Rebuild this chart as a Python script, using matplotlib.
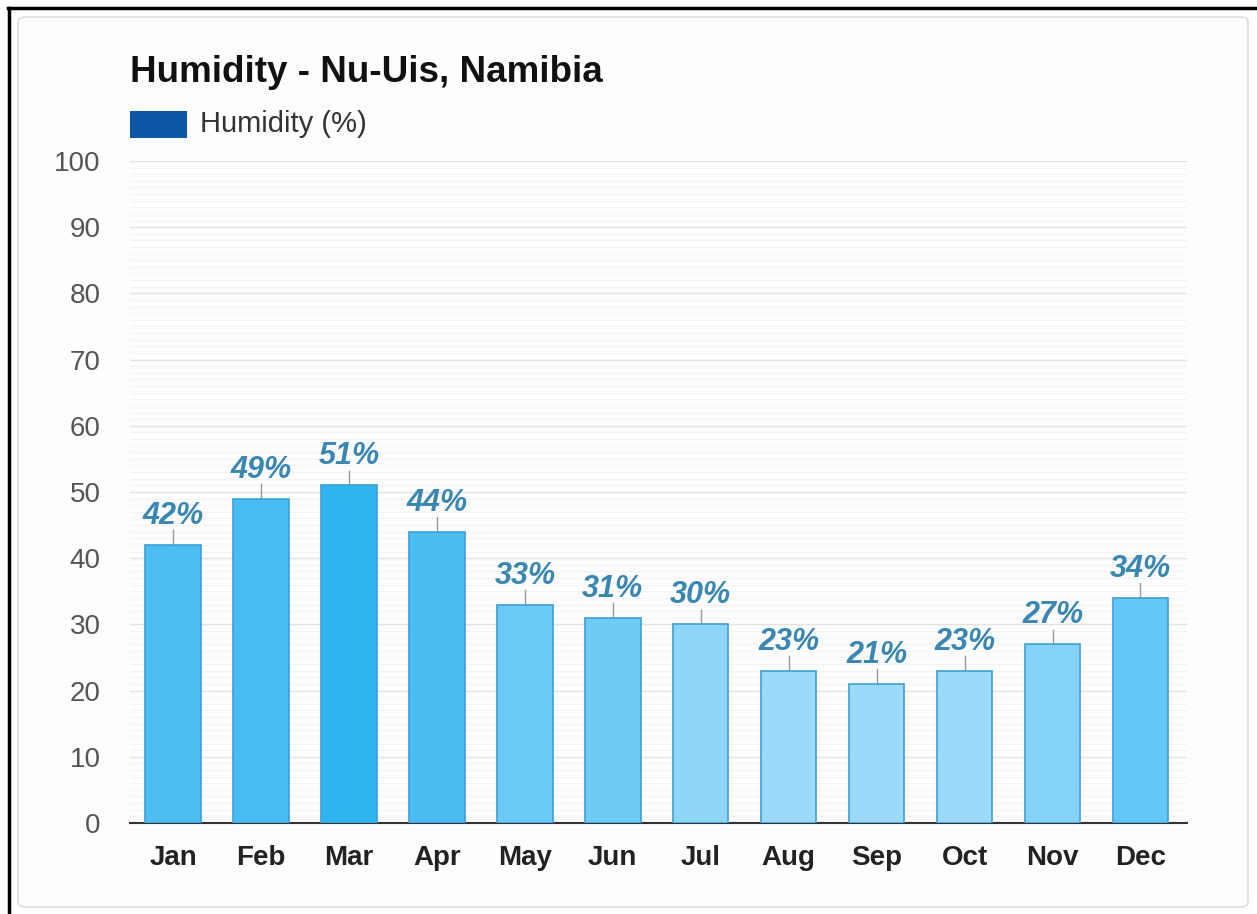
import matplotlib.pyplot as plt
from matplotlib.patches import FancyBboxPatch, Rectangle
from matplotlib.lines import Line2D
from matplotlib.ticker import MultipleLocator

months = ["Jan", "Feb", "Mar", "Apr", "May", "Jun", "Jul", "Aug", "Sep", "Oct", "Nov", "Dec"]
humidity = [42, 49, 51, 44, 33, 31, 30, 23, 21, 23, 27, 34]
bar_colors = ["#4dbdf2", "#47bbf2", "#2fb4ef", "#4abcf2", "#6ccbf6", "#6ecbf6",
              "#8dd6f8", "#9bdbf9", "#9bdbf9", "#9bdbf9", "#84d2f7", "#62c7f5"]
yticks = list(range(0, 101, 10))

plt.rcParams['font.family'] = ['Liberation Sans', 'DejaVu Sans']

fig = plt.figure(figsize=(12.57, 9.14), dpi=100)
fig.patch.set_facecolor("white")

# black frame on the left and top edges of the screenshot
fig.add_artist(Line2D([9 / 1257, 9 / 1257], [0, 1 - 8 / 914], color="black", linewidth=2.5, zorder=-2))
fig.add_artist(Line2D([8 / 1257, 1], [1 - 8 / 914, 1 - 8 / 914], color="black", linewidth=2.5, zorder=-2))
# card
fig.patches.append(FancyBboxPatch((18 / 1257, 7 / 914), 1230 / 1257, 890 / 914,
                                  boxstyle="round,pad=0,rounding_size=0.006",
                                  transform=fig.transFigure, facecolor="#fdfdfd",
                                  edgecolor="#dddddd", linewidth=1.2, zorder=-1))

ax = fig.add_axes([0.1034, 0.0996, 0.841, 0.7243])
ax.set_facecolor("none")

x = range(len(months))
ax.bar(x, humidity, width=0.63, color=bar_colors, edgecolor="#3d9fd6", linewidth=1.2, zorder=3)

for i, v in enumerate(humidity):
    ax.plot([i, i], [v, v + 2.2], color="#9a9a9a", linewidth=1, zorder=2)
    ax.text(i, v + 2.1, f"{v}%", ha="center", va="bottom", fontsize=22,
            fontweight="bold", fontstyle="italic", color="#3a87b2", zorder=4)

ax.set_xlim(-0.49, 11.53)
ax.set_ylim(0, 100)
ax.set_yticks(yticks)
ax.yaxis.set_minor_locator(MultipleLocator(1))
ax.grid(axis="y", which="major", color="#e2e2e2", linewidth=1, zorder=0)
ax.grid(axis="y", which="minor", color="#f4f4f4", linewidth=0.8, zorder=0)
ax.set_axisbelow(True)

ax.set_xticks(list(x))
ax.set_xticklabels(months, fontsize=20, fontweight="bold", color="#222222")
ax.tick_params(axis="x", length=0, pad=16)
ax.tick_params(axis="y", which="both", length=0, labelsize=20, labelcolor="#555555", pad=21)

for s in ["top", "right", "left"]:
    ax.spines[s].set_visible(False)
ax.spines["bottom"].set_color("#333333")
ax.spines["bottom"].set_linewidth(1.5)

fig.text(130 / 1257, 1 - 72 / 914, "Humidity - Nu-Uis, Namibia", fontsize=26.5,
         fontweight="bold", color="#111111", va="center", ha="left")
fig.patches.append(Rectangle((130 / 1257, 1 - 138 / 914), 57 / 1257, 27 / 914,
                             transform=fig.transFigure, facecolor="#0d56a6", edgecolor="none"))
fig.text(200 / 1257, 1 - 124 / 914, "Humidity (%)", fontsize=21, color="#333333",
         va="center", ha="left")

fig.savefig("out.png", dpi=100)
